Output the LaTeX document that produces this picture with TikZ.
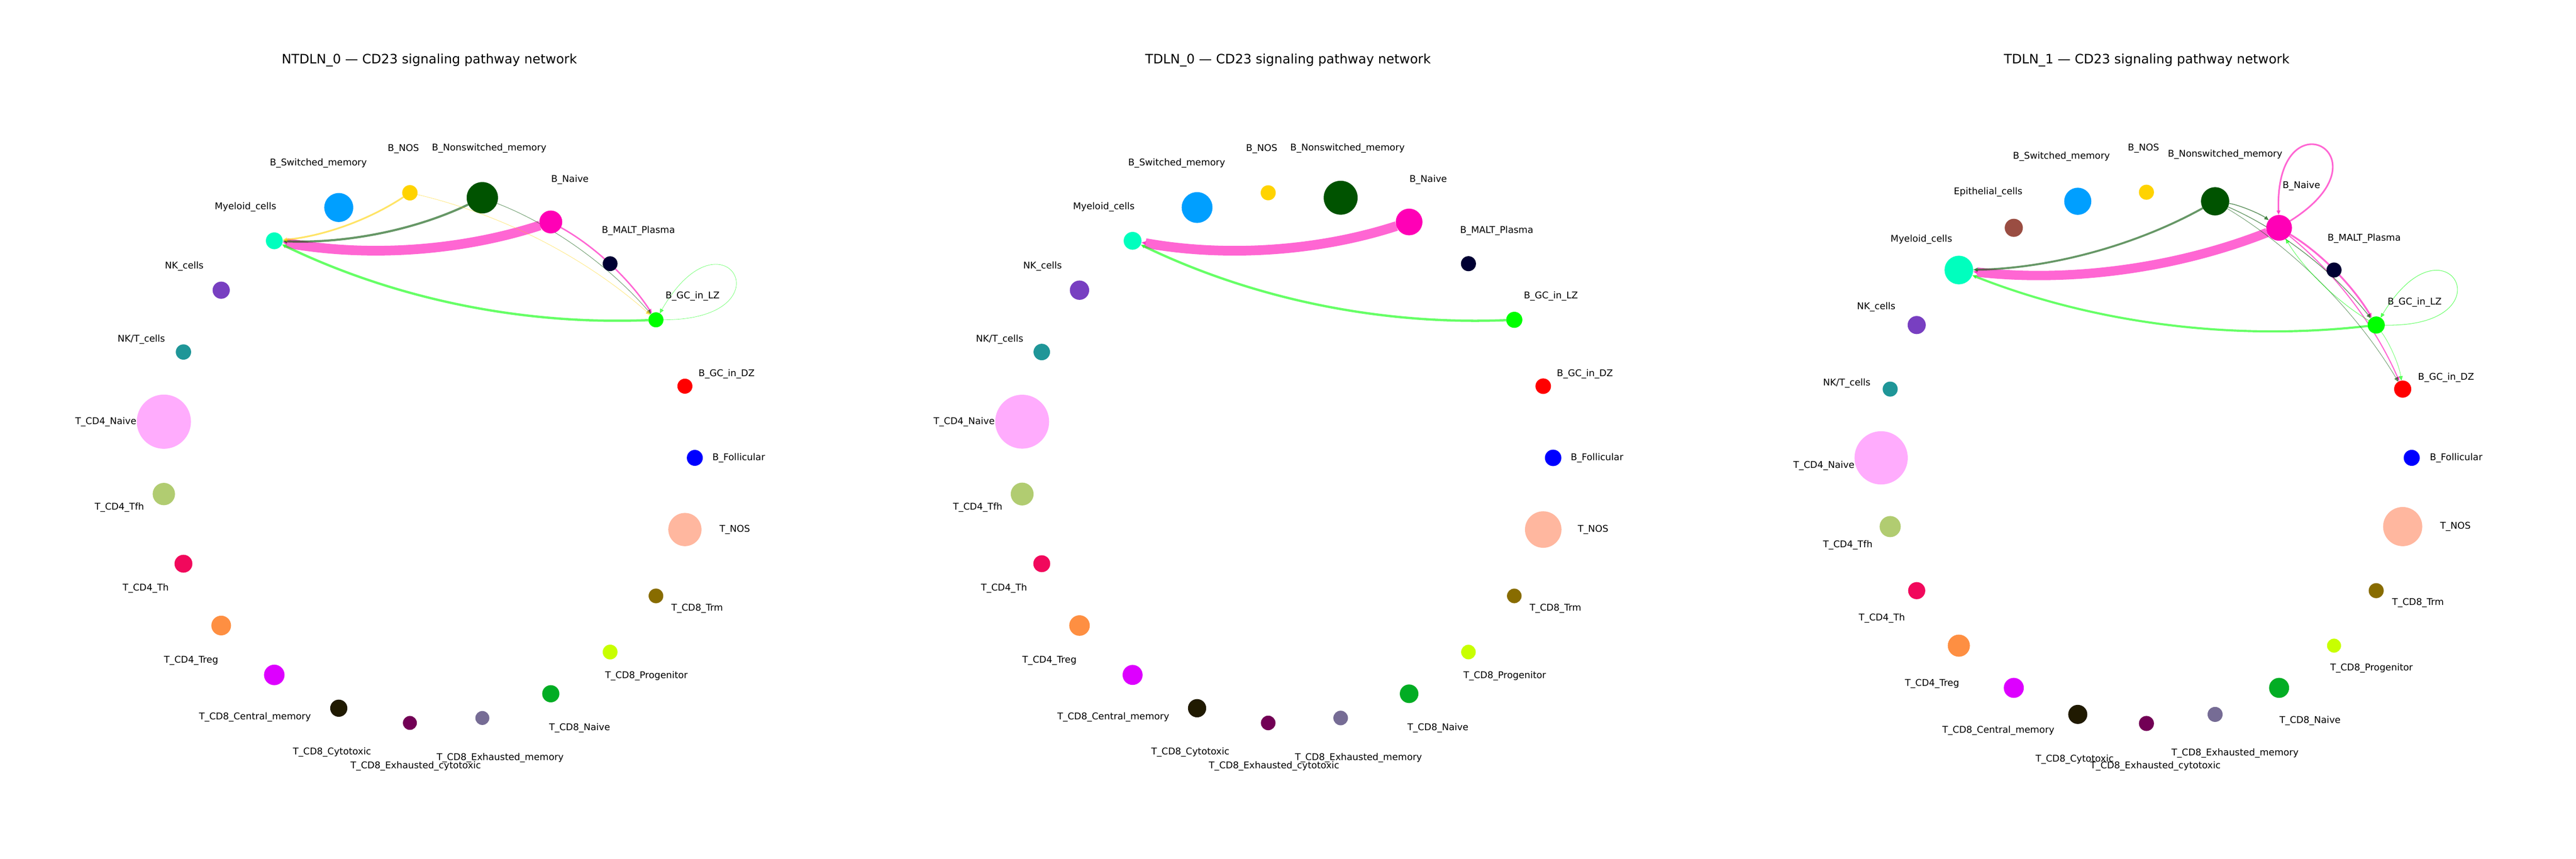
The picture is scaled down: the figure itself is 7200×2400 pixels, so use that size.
\documentclass[tikz,border=0pt]{standalone}
\usepackage{fontspec}
\setmainfont{DejaVu Sans}
\usetikzlibrary{calc,arrows.meta}
\pgfdeclarelayer{bglayer}
\pgfdeclarelayer{edgelayer}
\pgfsetlayers{bglayer,edgelayer,main}
\definecolor{kBFol}{HTML}{0000FF}
\definecolor{kDZ}{HTML}{FF0000}
\definecolor{kLZ}{HTML}{00FF00}
\definecolor{kMALT}{HTML}{000033}
\definecolor{kBN}{HTML}{FF00B6}
\definecolor{kNSW}{HTML}{005300}
\definecolor{kBNOS}{HTML}{FFD300}
\definecolor{kSW}{HTML}{009FFF}
\definecolor{kEPI}{HTML}{9A4D42}
\definecolor{kMYE}{HTML}{00FFBE}
\definecolor{kNK}{HTML}{783FC1}
\definecolor{kNKT}{HTML}{1F9698}
\definecolor{kCDFN}{HTML}{FFACFD}
\definecolor{kTFH}{HTML}{B1CC71}
\definecolor{kTH}{HTML}{F1085C}
\definecolor{kTREG}{HTML}{FE8F42}
\definecolor{kCM}{HTML}{DD00FF}
\definecolor{kCYT}{HTML}{201A01}
\definecolor{kEXC}{HTML}{720055}
\definecolor{kEXM}{HTML}{766C95}
\definecolor{kCDEN}{HTML}{02AD24}
\definecolor{kPROG}{HTML}{C8FF00}
\definecolor{kTRM}{HTML}{886C00}
\definecolor{kTNOS}{HTML}{FFB79F}
\tikzset{
  cell/.style={circle, inner sep=0pt, outer sep=0pt, draw=none, minimum size={2*#1*0.24bp}},
  lab/.style={inner sep=0pt, anchor=base, font=\fontsize{6.24bp}{7.5bp}\selectfont},
  ttl/.style={inner sep=0pt, anchor=base, font=\fontsize{8.7bp}{10.4bp}\selectfont},
  edge/.style={opacity=0.6, -{Triangle[length=3bp,width=2.6bp]}},
  lw/.style={line width={#1*0.24bp}},
}
\newcommand\pcx{0}\newcommand\pcy{0}\newcommand\prx{0}\newcommand\pry{0}
\newcommand\pstep{0}\newcommand\plabx{0}
\newcommand\cellat[4]{\node[cell=#3, fill=#4] (#1) at ({\pcx+\prx*cos(#2*\pstep)},{\pcy+\pry*sin(#2*\pstep)}) {};}
\newcommand\labat[4]{\node[lab] (#1) at ({#2+\plabx},{2390.5-#3}) {#4};}
\newcommand\cedge[4]{%
  \coordinate (qc) at ($(#1.center)!0.5!(#2.center)!0.25!90:(#2.center)$);
  \draw[edge,draw=#3,lw=#4] (#1) .. controls ($(#1.center)!0.6667!(qc)$) and ($(#2.center)!0.6667!(qc)$) .. (#2);}
\newcommand\cloop[4]{%
  \draw[edge,draw=#3,lw=#4] (#1) .. controls +({#2-30}:380) and +({#2+30}:380) .. (#1);}
\newcommand\abLabels[1]{%
  \labat{#1BFolL}{2064.7}{1276.8}{B\_Follicular}
  \labat{#1DZL}{2030.8}{1042.4}{B\_GC\_in\_DZ}
  \labat{#1LZL}{1935.7}{825}{B\_GC\_in\_LZ}
  \labat{#1MALTL}{1784.3}{641.7}{B\_MALT\_Plasma}
  \labat{#1BNL}{1592.9}{499.3}{B\_Naive}
  \labat{#1NSWL}{1367.3}{412.4}{B\_Nonswitched\_memory}
  \labat{#1BNOSL}{1127.5}{413.1}{B\_NOS}
  \labat{#1SWL}{889.8}{453.3}{B\_Switched\_memory}
  \labat{#1MYEL}{686.2}{575.8}{Myeloid\_cells}
  \labat{#1NKL}{515}{741}{NK\_cells}
  \labat{#1NKTL}{395}{946}{NK/T\_cells}
  \labat{#1CDFNL}{295.8}{1176}{T\_CD4\_Naive}
  \labat{#1TFHL}{333.7}{1414.7}{T\_CD4\_Tfh}
  \labat{#1THL}{407.3}{1640.8}{T\_CD4\_Th}
  \labat{#1TREGL}{534.2}{1842.9}{T\_CD4\_Treg}
  \labat{#1CML}{712.7}{2001}{T\_CD8\_Central\_memory}
  \labat{#1CYTL}{928}{2100}{T\_CD8\_Cytotoxic}
  \labat{#1EXCL}{1162.1}{2138.8}{T\_CD8\_Exhausted\_cytotoxic}
  \labat{#1EXML}{1398}{2115.8}{T\_CD8\_Exhausted\_memory}
  \labat{#1CDENL}{1620}{2031}{T\_CD8\_Naive}
  \labat{#1PROGL}{1806.8}{1886.2}{T\_CD8\_Progenitor}
  \labat{#1TRML}{1948.5}{1697.5}{T\_CD8\_Trm}
  \labat{#1TNOSL}{2053.8}{1476.8}{T\_NOS}}
\begin{document}
\begin{tikzpicture}[x=0.24bp,y=0.24bp]
\begin{pgfonlayer}{bglayer}
\fill[white] (0,0) rectangle (7200,2400);
\end{pgfonlayer}
\useasboundingbox (0,0) rectangle (7200,2400);
% titles
\node[ttl] (t1) at (1200,2222) {NTDLN\_0 — CD23 signaling pathway network};
\node[ttl] (t2) at (3600,2222) {TDLN\_0 — CD23 signaling pathway network};
\node[ttl] (t3) at (6000,2222) {TDLN\_1 — CD23 signaling pathway network};
% ---------- panel 1
\renewcommand\pcx{1196.5}\renewcommand\pcy{1120.5}\renewcommand\prx{745.5}\renewcommand\pry{742.5}
\renewcommand\pstep{15.65217}\renewcommand\plabx{0}
\cellat{aBFol}{0}{22.3}{kBFol}
\cellat{aDZ}{1}{21}{kDZ}
\cellat{aLZ}{2}{21}{kLZ}
\cellat{aMALT}{3}{20.7}{kMALT}
\cellat{aBN}{4}{32}{kBN}
\cellat{aNSW}{5}{43.8}{kNSW}
\cellat{aBNOS}{6}{21.5}{kBNOS}
\cellat{aSW}{7}{40.5}{kSW}
\cellat{aMYE}{8}{23.5}{kMYE}
\cellat{aNK}{9}{24}{kNK}
\cellat{aNKT}{10}{21.4}{kNKT}
\cellat{aCDFN}{11}{75.7}{kCDFN}
\cellat{aTFH}{12}{31.2}{kTFH}
\cellat{aTH}{13}{25}{kTH}
\cellat{aTREG}{14}{27.5}{kTREG}
\cellat{aCM}{15}{28.7}{kCM}
\cellat{aCYT}{16}{24}{kCYT}
\cellat{aEXC}{17}{19.5}{kEXC}
\cellat{aEXM}{18}{19.5}{kEXM}
\cellat{aCDEN}{19}{24}{kCDEN}
\cellat{aPROG}{20}{20.7}{kPROG}
\cellat{aTRM}{21}{20.5}{kTRM}
\cellat{aTNOS}{22}{46.4}{kTNOS}
\abLabels{a}
\begin{pgfonlayer}{edgelayer}
\cedge{aBN}{aMYE}{kBN}{27}
\cedge{aLZ}{aMYE}{kLZ}{6.5}
\cedge{aNSW}{aMYE}{kNSW}{6}
\cedge{aBNOS}{aMYE}{kBNOS}{4.7}
\cedge{aBN}{aLZ}{kBN}{4}
\cedge{aNSW}{aLZ}{kNSW}{1.3}
\cedge{aBNOS}{aLZ}{kBNOS}{1}
\cloop{aLZ}{30}{kLZ}{1}
\end{pgfonlayer}
% ---------- panel 2
\renewcommand\pcx{3595.5}\renewcommand\plabx{2399}
\cellat{bBFol}{0}{23}{kBFol}
\cellat{bDZ}{1}{21.7}{kDZ}
\cellat{bLZ}{2}{22.5}{kLZ}
\cellat{bMALT}{3}{21}{kMALT}
\cellat{bBN}{4}{37.3}{kBN}
\cellat{bNSW}{5}{47.4}{kNSW}
\cellat{bBNOS}{6}{21}{kBNOS}
\cellat{bSW}{7}{43}{kSW}
\cellat{bMYE}{8}{24.9}{kMYE}
\cellat{bNK}{9}{27}{kNK}
\cellat{bNKT}{10}{23}{kNKT}
\cellat{bCDFN}{11}{75.3}{kCDFN}
\cellat{bTFH}{12}{31.9}{kTFH}
\cellat{bTH}{13}{23.6}{kTH}
\cellat{bTREG}{14}{28.7}{kTREG}
\cellat{bCM}{15}{28}{kCM}
\cellat{bCYT}{16}{25.5}{kCYT}
\cellat{bEXC}{17}{20.4}{kEXC}
\cellat{bEXM}{18}{20.4}{kEXM}
\cellat{bCDEN}{19}{26}{kCDEN}
\cellat{bPROG}{20}{20.4}{kPROG}
\cellat{bTRM}{21}{20.4}{kTRM}
\cellat{bTNOS}{22}{51}{kTNOS}
\abLabels{b}
\begin{pgfonlayer}{edgelayer}
\cedge{bBN}{bMYE}{kBN}{27}
\cedge{bLZ}{bMYE}{kLZ}{6.5}
\end{pgfonlayer}
% ---------- panel 3
\renewcommand\pcx{5999.3}\renewcommand\pcy{1120.55}\renewcommand\prx{741.5}\renewcommand\pry{742.25}
\renewcommand\pstep{15}\renewcommand\plabx{0}
\cellat{cBFol}{0}{22.4}{kBFol}
\cellat{cDZ}{1}{24}{kDZ}
\cellat{cLZ}{2}{24}{kLZ}
\cellat{cMALT}{3}{21}{kMALT}
\cellat{cBN}{4}{36}{kBN}
\cellat{cNSW}{5}{39.5}{kNSW}
\cellat{cBNOS}{6}{21}{kBNOS}
\cellat{cSW}{7}{37.9}{kSW}
\cellat{cEPI}{8}{25.3}{kEPI}
\cellat{cMYE}{9}{40}{kMYE}
\cellat{cNK}{10}{25.3}{kNK}
\cellat{cNKT}{11}{21}{kNKT}
\cellat{cCDFN}{12}{74.4}{kCDFN}
\cellat{cTFH}{13}{29.5}{kTFH}
\cellat{cTH}{14}{23.9}{kTH}
\cellat{cTREG}{15}{30.9}{kTREG}
\cellat{cCM}{16}{28}{kCM}
\cellat{cCYT}{17}{26.7}{kCYT}
\cellat{cEXC}{18}{21}{kEXC}
\cellat{cEXM}{19}{21}{kEXM}
\cellat{cCDEN}{20}{28}{kCDEN}
\cellat{cPROG}{21}{19.6}{kPROG}
\cellat{cTRM}{22}{21}{kTRM}
\cellat{cTNOS}{23}{54.7}{kTNOS}
\labat{cBFolL}{6864.9}{1277}{B\_Follicular}
\labat{cDZL}{6836.8}{1052}{B\_GC\_in\_DZ}
\labat{cLZL}{6748.8}{841.6}{B\_GC\_in\_LZ}
\labat{cMALTL}{6607.8}{663.1}{B\_MALT\_Plasma}
\labat{cBNL}{6432.4}{516.8}{B\_Naive}
\labat{cNSWL}{6219.1}{428.5}{B\_Nonswitched\_memory}
\labat{cBNOSL}{5991.1}{412.2}{B\_NOS}
\labat{cSWL}{5761.8}{435.2}{B\_Switched\_memory}
\labat{cEPIL}{5556.9}{533.6}{Epithelial\_cells}
\labat{cMYEL}{5370.3}{667.2}{Myeloid\_cells}
\labat{cNKL}{5244}{855.9}{NK\_cells}
\labat{cNKTL}{5161.7}{1068.9}{NK/T\_cells}
\labat{cCDFNL}{5097.8}{1298.5}{T\_CD4\_Naive}
\labat{cTFHL}{5164.5}{1520.4}{T\_CD4\_Tfh}
\labat{cTHL}{5259.9}{1725.5}{T\_CD4\_Th}
\labat{cTREGL}{5400.2}{1907.6}{T\_CD4\_Treg}
\labat{cCML}{5585.4}{2038.5}{T\_CD8\_Central\_memory}
\labat{cCYTL}{5798.6}{2118.9}{T\_CD8\_Cytotoxic}
\labat{cEXCL}{6024.5}{2138.8}{T\_CD8\_Exhausted\_cytotoxic}
\labat{cEXML}{6246.9}{2102}{T\_CD8\_Exhausted\_memory}
\labat{cCDENL}{6456.6}{2011.7}{T\_CD8\_Naive}
\labat{cPROGL}{6628.5}{1864.8}{T\_CD8\_Progenitor}
\labat{cTRML}{6758.3}{1681.1}{T\_CD8\_Trm}
\labat{cTNOSL}{6862.8}{1469.1}{T\_NOS}
\begin{pgfonlayer}{edgelayer}
\cedge{cBN}{cMYE}{kBN}{26}
\cedge{cLZ}{cMYE}{kLZ}{6}
\cedge{cNSW}{cMYE}{kNSW}{5.5}
\cloop{cBN}{62}{kBN}{4.5}
\cedge{cBN}{cLZ}{kBN}{5}
\cedge{cBN}{cDZ}{kBN}{3}
\cedge{cNSW}{cBN}{kNSW}{2.3}
\cedge{cNSW}{cLZ}{kNSW}{2}
\cedge{cNSW}{cDZ}{kNSW}{1.3}
\cedge{cLZ}{cBN}{kLZ}{1.5}
\cedge{cLZ}{cDZ}{kLZ}{1.2}
\cloop{cLZ}{29}{kLZ}{1.5}
\end{pgfonlayer}
\end{tikzpicture}
\end{document}
